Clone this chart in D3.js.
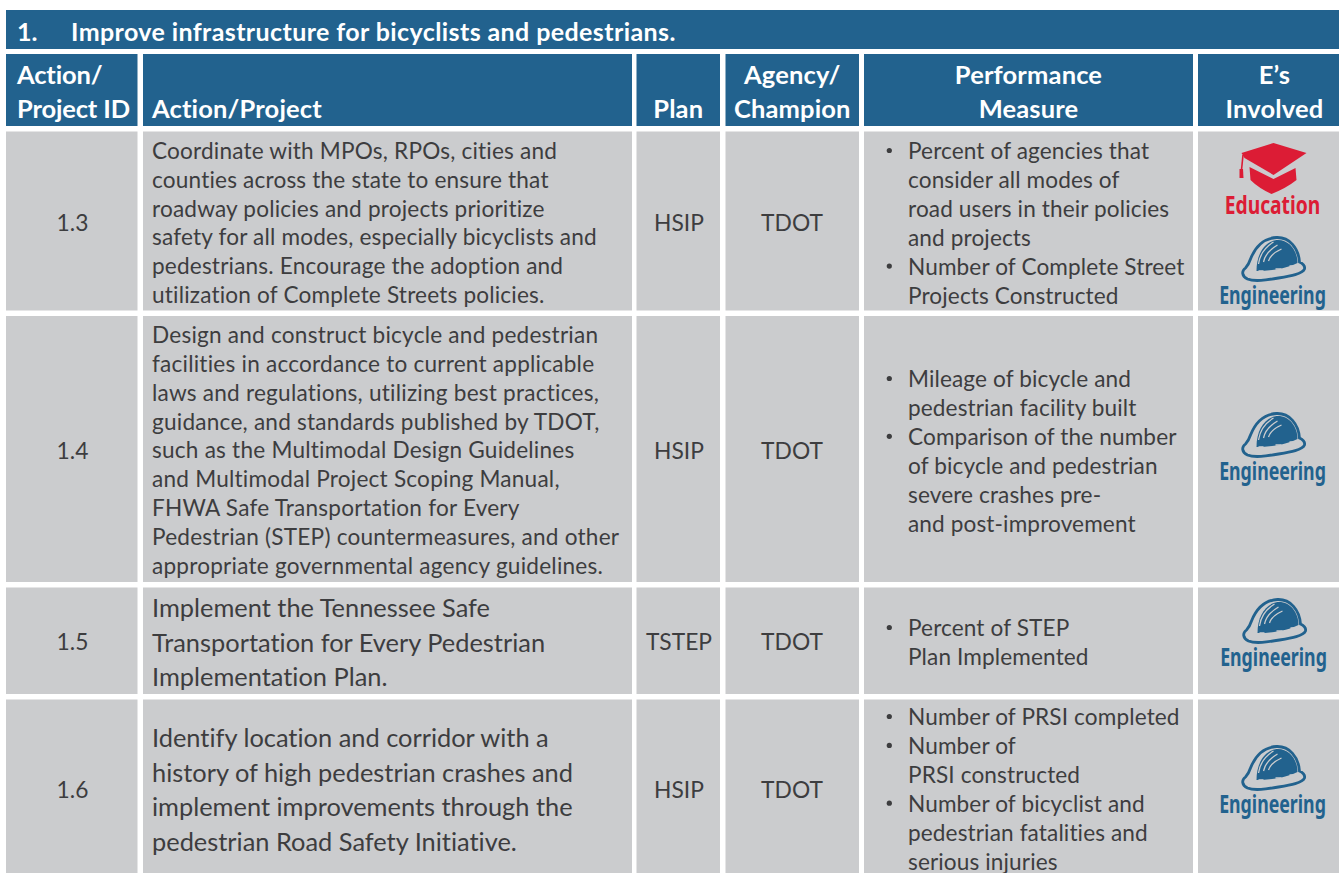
<!DOCTYPE html>
<html>
<head>
<meta charset="utf-8">
<script src="https://cdnjs.cloudflare.com/ajax/libs/d3/7.8.5/d3.min.js"></script>
<style>
  html, body { margin: 0; padding: 0; background: #fff; }
  svg { display: block; }
  text { font-family: Lato, "Noto Sans", sans-serif; font-variant-ligatures: none; }
</style>
</head>
<body>
<div id="chart"></div>
<script>
const sectionNumber = '1.';
const sectionTitle = 'Improve infrastructure for bicyclists and pedestrians.';
const headers = [
  ['Action/', 'Project ID'],
  ['Action/Project'],
  ['Plan'],
  ['Agency/', 'Champion'],
  ['Performance', 'Measure'],
  ['E\u2019s', 'Involved']
];
const ids = ['1.3', '1.4', '1.5', '1.6'];
const projects = [
  ['Coordinate with MPOs, RPOs, cities and', 'counties across the state to ensure that', 'roadway policies and projects prioritize', 'safety for all modes, especially bicyclists and', 'pedestrians. Encourage the adoption and', 'utilization of Complete Streets policies.'],
  ['Design and construct bicycle and pedestrian', 'facilities in accordance to current applicable', 'laws and regulations, utilizing best practices,', 'guidance, and standards published by TDOT,', 'such as the Multimodal Design Guidelines', 'and Multimodal Project Scoping Manual,', 'FHWA Safe Transportation for Every', 'Pedestrian (STEP) countermeasures, and other', 'appropriate governmental agency guidelines.'],
  ['Implement the Tennessee Safe', 'Transportation for Every Pedestrian', 'Implementation Plan.'],
  ['Identify location and corridor with a', 'history of high pedestrian crashes and', 'implement improvements through the', 'pedestrian Road Safety Initiative.']
];
const plans = ['HSIP', 'HSIP', 'TSTEP', 'HSIP'];
const agencies = ['TDOT', 'TDOT', 'TDOT', 'TDOT'];
// a leading * marks a bullet line
const measures = [
  ['*Percent of agencies that', 'consider all modes of', 'road users in their policies', 'and projects', '*Number of Complete Street', 'Projects Constructed'],
  ['*Mileage of bicycle and', 'pedestrian facility built', '*Comparison of the number', 'of bicycle and pedestrian', 'severe crashes pre-', 'and post-improvement'],
  ['*Percent of STEP', 'Plan Implemented'],
  ['*Number of PRSI completed', '*Number of', 'PRSI constructed', '*Number of bicyclist and', 'pedestrian fatalities and', 'serious injuries']
];
const involved = [['Education', 'Engineering'], ['Engineering'], ['Engineering'], ['Engineering']];

const width = 1339, height = 873;
const blue = '#22628e', grey = '#cbccce', ink = '#3d3d3f', red = '#dc1c35';

// column and row edges of the table
const colX = [[6, 137.5], [143, 632], [636.5, 720], [725.5, 859], [864, 1193], [1198, 1339]];
const rowY = [[131.5, 310.5], [316, 582], [587.5, 694], [699.5, 873]];
const projectStyle = [
  { size: 22.6, gap: 28.8, first: 159, track: 0.18 },
  { size: 22.6, gap: 28.85, first: 343, track: 0.22 },
  { size: 25.4, gap: 34.5, first: 617, track: 0 },
  { size: 25.4, gap: 34.7, first: 747, track: 0 }
];
const measureFirst = [159, 387, 636, 725];

const svg = d3.select('#chart').append('svg')
  .attr('width', width)
  .attr('height', height);

// title band
svg.append('rect')
  .attr('x', 6).attr('y', 10)
  .attr('width', width - 6).attr('height', 39)
  .attr('fill', blue);
svg.append('text')
  .attr('x', 17).attr('y', 41)
  .attr('fill', '#fff').attr('font-weight', 700).attr('font-size', 25)
  .text(sectionNumber);
svg.append('text')
  .attr('x', 71).attr('y', 41)
  .attr('fill', '#fff').attr('font-weight', 700).attr('font-size', 25)
  .attr('letter-spacing', 0.4)
  .text(sectionTitle);

// header row
const head = svg.append('g').attr('class', 'head');
head.selectAll('rect')
  .data(colX)
  .enter().append('rect')
  .attr('x', d => d[0]).attr('y', 54)
  .attr('width', d => d[1] - d[0]).attr('height', 72)
  .attr('fill', blue);
headers.forEach((lines, c) => {
  const left = c === 1;
  const cx = left ? 152 : c === 0 ? 17 : c === 5 ? 1274.5 : (colX[c][0] + colX[c][1]) / 2;
  lines.forEach((t, i) => {
    head.append('text')
      .attr('x', cx)
      .attr('y', 118 - (lines.length - 1 - i) * 34)
      .attr('text-anchor', left || c === 0 ? 'start' : 'middle')
      .attr('fill', '#fff').attr('font-weight', 700).attr('font-size', 25.5)
      .attr('letter-spacing', c === 0 ? -0.15 : 0.15)
      .text(t);
  });
});

// body cells
const body = svg.append('g').attr('class', 'body');
rowY.forEach((r, i) => {
  colX.forEach(c => {
    body.append('rect')
      .attr('x', c[0]).attr('y', r[0])
      .attr('width', c[1] - c[0]).attr('height', r[1] - r[0])
      .attr('fill', grey);
  });
  const mid = [222.5, 450, 641.5, 789.5][i] + 8.5;
  const centred = [[ids[i], 72.5], [plans[i], 679], [agencies[i], 792]];
  centred.forEach(d => {
    body.append('text')
      .attr('x', d[1]).attr('y', mid)
      .attr('text-anchor', 'middle')
      .attr('fill', ink).attr('font-size', 22.8)
      .text(d[0]);
  });
  const ps = projectStyle[i];
  projects[i].forEach((t, j) => {
    body.append('text')
      .attr('x', 152).attr('y', ps.first + j * ps.gap)
      .attr('fill', ink).attr('font-size', ps.size)
      .attr('letter-spacing', ps.track)
      .text(t);
  });
  measures[i].forEach((t, j) => {
    const y = measureFirst[i] + j * 28.9;
    const bullet = t[0] === '*';
    if (bullet) {
      body.append('circle')
        .attr('cx', 889.3).attr('cy', y - 8.5).attr('r', 2.6)
        .attr('fill', ink);
    }
    body.append('text')
      .attr('x', 908).attr('y', y)
      .attr('fill', ink).attr('font-size', 22.6)
      .attr('letter-spacing', 0.12)
      .text(bullet ? t.slice(1) : t);
  });
});

// E's icons, drawn in local coordinates around the icon centre
function iconLabel(g, name, color, y, squeeze) {
  g.append('text').attr('y', 0).attr('text-anchor', 'middle')
    .attr('transform', 'translate(0,' + y + ') scale(' + squeeze + ',1)')
    .attr('fill', color)
    .style('font-family', '"Noto Sans", sans-serif')
    .attr('font-weight', 700).attr('font-size', 25)
    .text(name);
}
function capIcon(g) {
  g.append('path').attr('fill', red)
    .attr('d', 'M-31,-14 L1,-24 L34,-14 L1,8 L-28,-9 Z');
  g.append('path').attr('fill', red)
    .attr('d', 'M-23,0 L1,12 L23,1 L24,13 Q14,21 -1,27 Q-14,21 -22,13 Z');
  g.append('path').attr('fill', 'none').attr('stroke', red).attr('stroke-width', 1.6)
    .attr('d', 'M-29.5,-12 L-31,3');
  g.append('path').attr('fill', red)
    .attr('d', 'M-33,2 L-29.5,2 L-29,11 L-33,11 Z');
  iconLabel(g, 'Education', red, 46.5, 0.77);
}
function hatIcon(g) {
  g.append('path').attr('fill', grey).attr('stroke', blue).attr('stroke-width', 2.8)
    .attr('d', 'M-22,-3 C-16,-18 -6,-24 4,-24.5 C17,-25 26,-14 27,0 Q33,3 32,7 C30,12 18,14 6,16 C-6,18 -18,20 -25,17 C-31,14 -31,9 -27,6 Q-24,3 -22,-3 Z');
  g.append('path').attr('fill', blue)
    .attr('d', 'M-16,9 C-16,-8 -8,-20 4,-22 C16,-23 25,-12 25,1 C15,6 0,9 -16,9 Z');
  g.append('path').attr('fill', 'none').attr('stroke', grey).attr('stroke-width', 1.3)
    .attr('d', 'M-14,2 Q-12,-12 1,-20 M-9,0 Q-7,-10 5,-17 M-4,-1 Q-2,-8 9,-13 M-14,9 h5 M3,7 h6 M17,4 h4');
  iconLabel(g, 'Engineering', blue, 42, 0.71);
}
const iconY = [[167, 262], [438], [624], [771]];
const iconX = [1272.5, 1272.5, 1273.5, 1272.5];
involved.forEach((list, i) => {
  list.forEach((name, j) => {
    const g = svg.append('g')
      .attr('transform', 'translate(' + iconX[i] + ',' + iconY[i][j] + ')');
    if (name === 'Education') capIcon(g); else hatIcon(g);
  });
});
</script>
</body>
</html>
